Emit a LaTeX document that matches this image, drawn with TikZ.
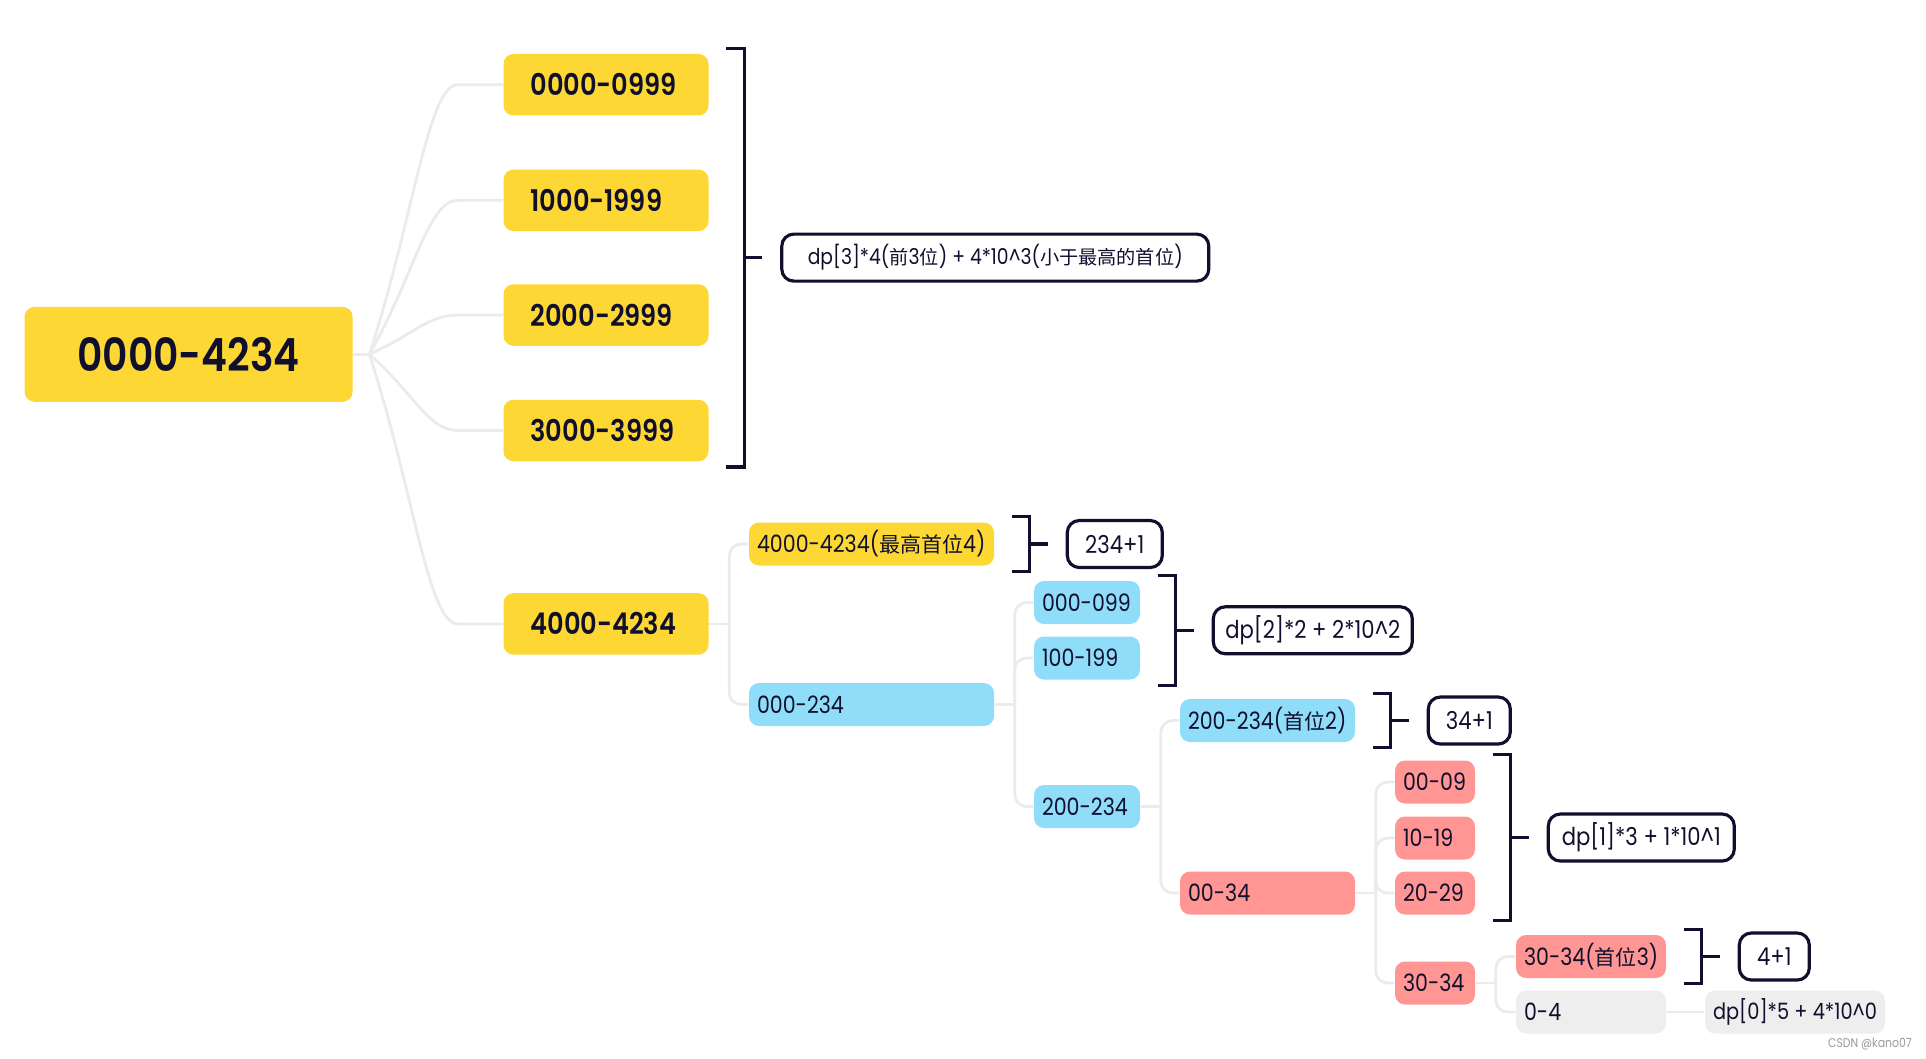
\documentclass[tikz,border=0pt]{standalone}
\usepackage{fontspec}
\setmainfont{Poppins}[FakeStretch=0.86,BoldFont={Poppins SemiBold}]
\newfontfamily\cjk{Noto Sans CJK SC}[Scale=0.88]
\usetikzlibrary{positioning,calc}
\definecolor{ink}{HTML}{10102E}
\definecolor{mmyellow}{HTML}{FDD835}
\definecolor{mmblue}{HTML}{8FDDF9}
\definecolor{mmred}{HTML}{FF9694}
\definecolor{mmgray}{HTML}{EEEEEE}
\definecolor{linegray}{HTML}{EBEBEB}
\newcommand{\zh}[1]{{\cjk #1}}

\begin{document}
\begin{tikzpicture}[
  topic/.style={rounded corners=0.1cm,inner ysep=0pt,text=ink,align=left,execute at begin node={\exhyphenpenalty=10000 }},
  rootbox/.style={topic,fill=mmyellow,font=\fontsize{13}{15}\selectfont\bfseries,inner xsep=0pt,text width=3.28cm,align=center,minimum height=0.95cm},
  rangebox/.style={topic,fill=mmyellow,font=\fontsize{8.5}{10}\selectfont\bfseries,inner xsep=0.27cm,text width=1.51cm,minimum height=0.615cm},
  leaf/.style={topic,font=\fontsize{6.8}{8.5}\selectfont,inner xsep=0.08cm,minimum height=0.43cm},
  sumbox/.style={draw=ink,line width=0.9pt,rounded corners=0.12cm,text=ink,inner xsep=0.12cm,inner ysep=0pt,minimum height=0.47cm,font=\fontsize{7}{8}\selectfont},
  branch/.style={draw=linegray,line width=0.8pt},
  brace/.style={draw=ink,line width=0.9pt}
]
\useasboundingbox (0,0) rectangle (19.26,-10.58);

% first split by the leading digit
\node[rootbox] (root) at (1.886,-3.543) {0000-4234};
\node[rangebox] (k0) at (6.06,-0.847) {0000-0999};
\node[rangebox] (k1) at (6.06,-2.003) {1000-1999};
\node[rangebox] (k2) at (6.06,-3.150) {2000-2999};
\node[rangebox] (k3) at (6.06,-4.305) {3000-3999};
\node[rangebox] (k4) at (6.06,-6.239) {4000-4234};

% the remaining digits
\node[leaf,fill=mmyellow,text width=2.29cm] (a1) at (8.715,-5.44) {4000-4234(\zh{最高首位}4)};
\node[leaf,fill=mmblue,text width=2.29cm] (b1) at (8.715,-7.045) {000-234};
\node[leaf,fill=mmblue,text width=0.90cm] (c1) at (10.87,-6.025) {000-099};
\node[leaf,fill=mmblue,text width=0.90cm] (c2) at (10.87,-6.58) {100-199};
\node[leaf,fill=mmblue,text width=0.90cm] (c3) at (10.87,-8.065) {200-234};
\node[leaf,fill=mmblue,text width=1.59cm] (d1) at (12.675,-7.205) {200-234(\zh{首位}2)};
\node[leaf,fill=mmred,text width=1.59cm] (d2) at (12.675,-8.93) {00-34};
\node[leaf,fill=mmred,text width=0.64cm] (e1) at (14.35,-7.82) {00-09};
\node[leaf,fill=mmred,text width=0.64cm] (e2) at (14.35,-8.38) {10-19};
\node[leaf,fill=mmred,text width=0.64cm] (e3) at (14.35,-8.93) {20-29};
\node[leaf,fill=mmred,text width=0.64cm] (e4) at (14.35,-9.83) {30-34};
\node[leaf,fill=mmred,text width=1.34cm] (f1) at (15.91,-9.565) {30-34(\zh{首位}3)};
\node[leaf,fill=mmgray,text width=1.34cm] (f2) at (15.91,-10.12) {0-4};
\node[leaf,fill=mmgray,minimum width=1.78cm,font=\fontsize{6.4}{8}\selectfont] (g1) at (17.95,-10.12) {dp[0]*5 + 4*10\textasciicircum0};

% curved branches from the root
\draw[branch] (root.east) -- ++(0.16,0) coordinate (j0);
\foreach \c in {k0,k1,k2,k3,k4} {
  \coordinate (e) at ($(\c.west)+(-0.45,0)$);
  \draw[branch] (j0) .. controls ($(j0)!0.5!(e)$) and ($(e)+(-0.3,0)$) .. (e) -- (\c.west);
}

% elbow branches
\draw[branch] (k4.east) -- ++(0.2,0) coordinate (j1);
\draw[branch] (b1.east) -- ++(0.2,0) coordinate (j2);
\draw[branch] (c3.east) -- ++(0.2,0) coordinate (j3);
\draw[branch] (d2.east) -- ++(0.2,0) coordinate (j4);
\draw[branch] (e4.east) -- ++(0.2,0) coordinate (j5);
\foreach \j/\c in {j1/a1,j1/b1,j2/c1,j2/c2,j2/c3,j3/d1,j3/d2,j4/e1,j4/e2,j4/e3,j4/e4,j5/f1,j5/f2}
  \draw[branch,rounded corners=0.12cm] (\j) |- (\c.west);
\draw[branch] (f2) -- (g1);

% brackets
\foreach \t/\b/\k in {k0/k3/t1,a1/a1/t2,c1/c2/t3,d1/d1/t4,e1/e3/t5,f1/f1/t6} {
  \draw[brace] ($(\t.north east)+(0.17,0.05)$) -| ($(\b.south east)+(0.35,-0.05)$) -- ++(-0.18,0);
  \draw[brace] ($(\t.north east)!0.5!(\b.south east)+(0.35,0)$) -- ++(0.18,0) coordinate (\k);
}
\node[sumbox,minimum width=4.27cm,right=0.18cm of t1,font=\fontsize{6.2}{8}\selectfont] (s1) {dp[3]*4(\zh{前}3\zh{位}) + 4*10\textasciicircum3(\zh{小于最高的首位})};
\node[sumbox,minimum width=0.95cm,right=0.18cm of t2] (s2) {234+1};
\node[sumbox,minimum width=1.99cm,right=0.18cm of t3] (s3) {dp[2]*2 + 2*10\textasciicircum2};
\node[sumbox,minimum width=0.82cm,right=0.18cm of t4] (s4) {34+1};
\node[sumbox,minimum width=1.86cm,right=0.18cm of t5] (s5) {dp[1]*3 + 1*10\textasciicircum1};
\node[sumbox,minimum width=0.70cm,right=0.18cm of t6] (s6) {4+1};

\node[font=\fontsize{3.6}{4}\selectfont,text=black!40] (mark) at (18.70,-10.44) {CSDN @kano07};
\end{tikzpicture}
\end{document}
